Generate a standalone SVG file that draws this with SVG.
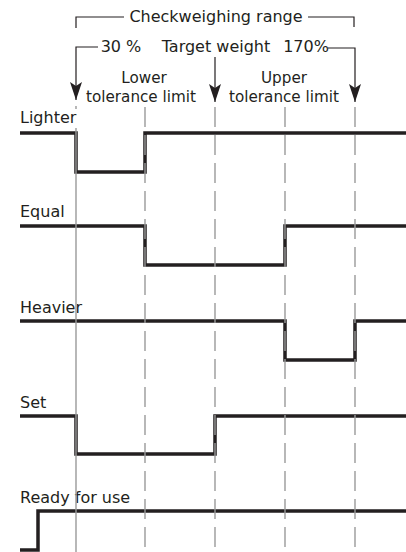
<svg xmlns="http://www.w3.org/2000/svg" width="406" height="552" viewBox="0 0 406 552">
<style>
text{font-family:"DejaVu Sans","Liberation Sans",sans-serif;font-size:16px;fill:#231f20}
.mid{text-anchor:middle}
.sm{font-size:15.2px}
.sig{fill:none;stroke:#231f20;stroke-width:3.5;stroke-linejoin:miter;stroke-linecap:butt}
.br{fill:none;stroke:#231f20;stroke-width:1.2}
.grid{fill:none;stroke:#9a9a9a;stroke-width:1.4}
.dash{stroke-dasharray:20 8}
</style>
<defs>
<marker id="ah" viewBox="0 0 18 12" refX="18" refY="6" markerWidth="18" markerHeight="12" markerUnits="userSpaceOnUse" orient="auto">
<path d="M0,0 L4,6 L0,12 L18,6 Z" fill="#231f20"/>
</marker>
</defs>
<rect width="406" height="552" fill="#fff"/>
<g id="header">
<text class="mid" x="216" y="22">Checkweighing range</text>
<text class="mid" x="121" y="52">30 %</text>
<text class="mid" x="216" y="52">Target weight</text>
<text class="mid" x="306" y="52">170%</text>
<text class="mid sm" x="144" y="83">Lower</text>
<text class="mid sm" x="141" y="102">tolerance limit</text>
<text class="mid sm" x="284" y="83">Upper</text>
<text class="mid sm" x="284" y="102">tolerance limit</text>
</g>
<g id="lighter">
<text x="20" y="123">Lighter</text>
<path class="sig" d="M20,133 H76 V172 H145 V133 H406"/>
</g>
<g id="equal">
<text x="20" y="217">Equal</text>
<path class="sig" d="M20,226 H145 V265 H285 V226 H406"/>
</g>
<g id="heavier">
<text x="20" y="313">Heavier</text>
<path class="sig" d="M20,321 H285 V360 H355 V321 H406"/>
</g>
<g id="set">
<text x="20" y="408">Set</text>
<path class="sig" d="M20,416 H76 V454 H215 V416 H406"/>
</g>
<g id="ready">
<text x="20" y="503">Ready for use</text>
<path class="sig" d="M20,550 H38 V511 H406"/>
</g>
<g id="connectors">
<path class="br" d="M76,28 V17 H124 M308,17 H354 V27"/>
<path class="br" d="M98,47 H76 V100" marker-end="url(#ah)"/>
<path class="br" d="M328,48 H355 V102" marker-end="url(#ah)"/>
<path class="br" d="M215,57 V102" marker-end="url(#ah)"/>
<path class="grid" d="M76,106 V109 M76,128 V552"/>
<path class="grid dash" d="M145,107 V552 M215,107 V552 M285,107 V552 M355,107 V552"/>
</g>
</svg>
